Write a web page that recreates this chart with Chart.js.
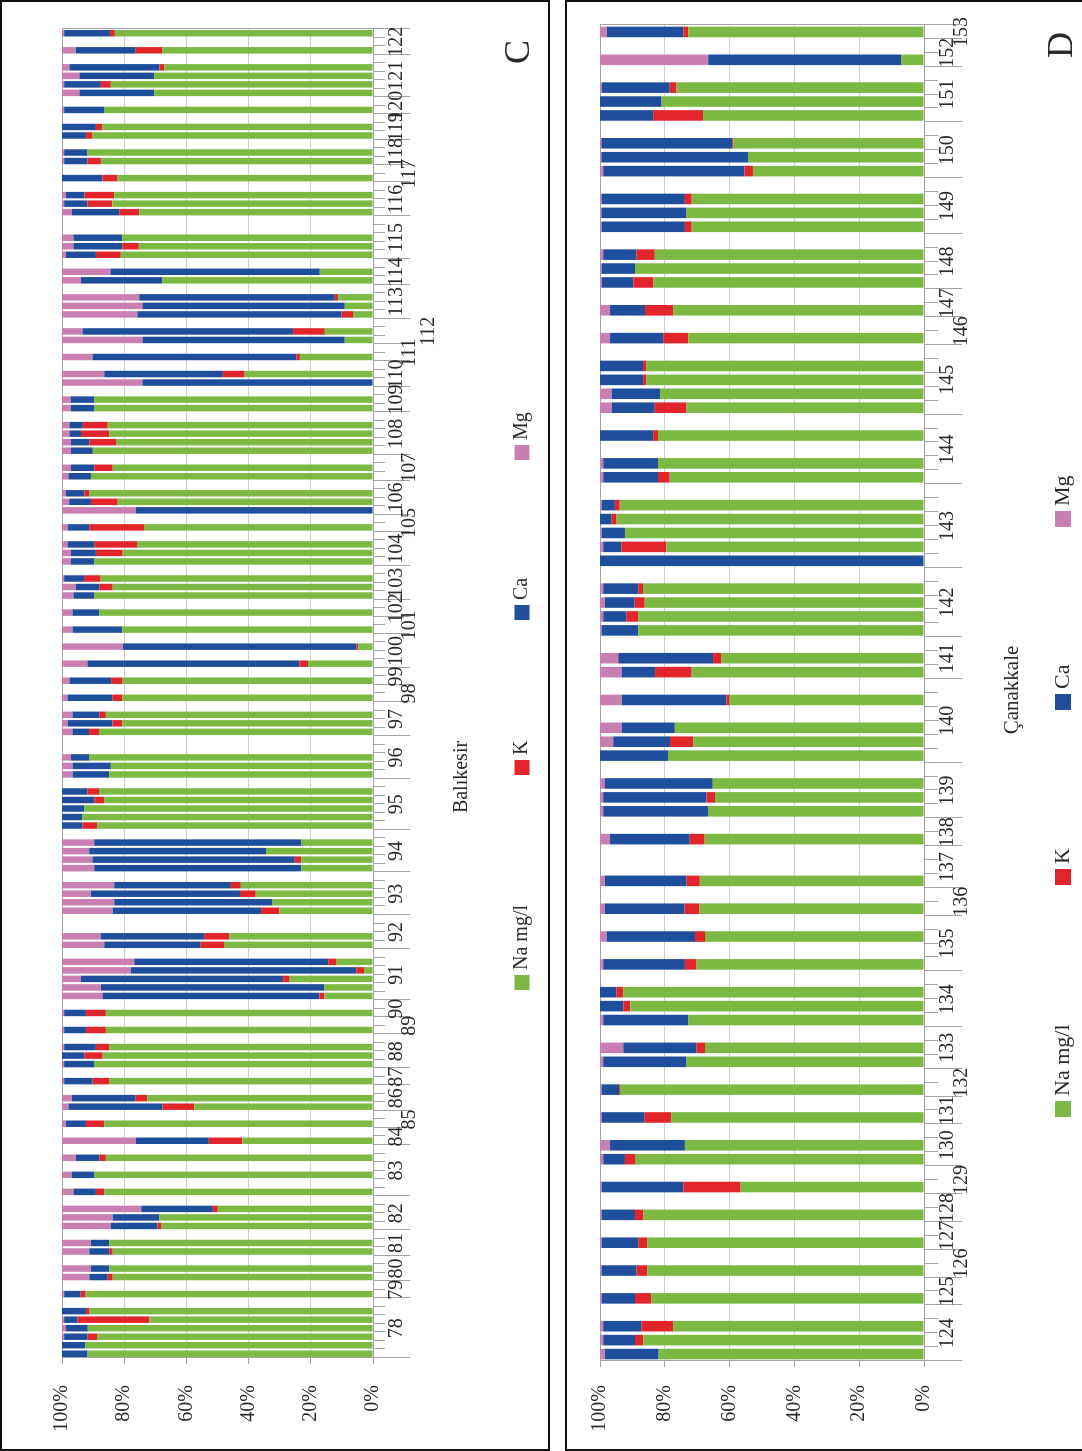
<!DOCTYPE html>
<html>
<head>
<meta charset="utf-8">
<title>Na, K, Ca, Mg – Balıkesir / Çanakkale</title>
<script src="https://cdn.jsdelivr.net/npm/chart.js@4.4.1/dist/chart.umd.min.js"></script>
<style>
  html, body { margin: 0; padding: 0; background: #fff; overflow: hidden; }
  body { width: 1082px; height: 1451px; position: relative; }
  /* each chart is laid out as a normal column chart and turned a quarter to the left */
  .turn { position: absolute; top: 0; transform-origin: 0 0; transform: translate(0, 1451px) rotate(-90deg); }
  .turn canvas { display: block; }
  .box { position: absolute; top: 0; height: 1451px; box-sizing: border-box; border: 2px solid #111; pointer-events: none; }
</style>
</head>
<body>
<div class="turn" style="left:0;width:1451px;height:549px"><canvas id="chartC" width="1451" height="549"></canvas></div>
<div class="turn" style="left:565px;width:1451px;height:517px"><canvas id="chartD" width="1451" height="517"></canvas></div>
<div class="box" style="left:0;width:550px"></div>
<div class="box" style="left:565px;width:530px"></div>

<script>
// ---------- series ----------
const SERIES = ['Na mg/l', 'K', 'Ca', 'Mg'];
const COLORS = ['#7db843', '#e2242b', '#1f4e9c', '#c97fb2'];

// ---------- Balıkesir: sites and number of slots each site occupies ----------
const cSites = ['78','79','80','81','82','83','84','85','86','87','88','89','90','91','92','93','94','95','96','97',
                '98','99','100','101','102','103','104','105','106','107','108','109','110','111','112','113','114',
                '115','116','117','118','119','120','121','122'];
const cSlots = [7,2,3,3,4,6,2,2,3,2, 4,2,2,6,4,5,5,6,5,4, 2,2,4,2,2,4,4,2,4,3, 5,3,3,2,3,4,3,5,4,2, 3,3,2,5,3];

// percentage of each ion per sample (null = empty slot)
const cNa = [
  91.8, 92.5, 88.6, 91.7, 71.9, 91.2, null,   // 78
  92.4, null,                                 // 79
  83.7, 84.8, null,                           // 80
  83.7, 84.8, null,                           // 81
  68.0, 68.7, 49.9, null,                     // 82
  86.4, null, 89.6, null, 85.9, null,         // 83
  42.0, null,                                 // 84
  86.4, null,                                 // 85
  57.5, 72.6, null,                           // 86
  84.9, null,                                 // 87
  89.7, 86.9, 84.8, null,                     // 88
  85.9, null,                                 // 89
  85.9, null,                                 // 90
  15.6, 15.7, 26.8, 2.9, 11.7, null,          // 91
  47.9, 46.2, null, null,                     // 92
  30.1, 32.3, 37.7, 42.5, null,               // 93
  23.0, 23.1, 34.4, 23.0, null,               // 94
  88.6, 93.4, 92.8, 86.4, 88.1, null,         // 95
  84.8, 84.3, 91.2, null, null,               // 96
  88.1, 80.6, 85.9, null,                     // 97
  80.6, null,                                 // 98
  80.5, null,                                 // 99
  20.9, null, 4.8, null,                      // 100
  80.6, null,                                 // 101
  88.0, null,                                 // 102
  89.7, 83.7, 87.6, null,                     // 103
  89.6, 80.5, 75.7, null,                     // 104
  73.6, null,                                 // 105
  0, 82.1, 91.2, null,                        // 106
  90.7, 83.7, null,                           // 107
  90.1, 82.6, 84.8, 85.3, null,               // 108
  89.6, 89.6, null,                           // 109
  0, 41.3, null,                              // 110
  23.5, null,                                 // 111
  9.1, 15.5, null,                            // 112
  6.4, 9.1, 11.2, null,                       // 113
  67.7, 17.1, null,                           // 114
  81.1, 75.3, 80.6, null, null,               // 115
  75.2, 83.8, 83.2, null,                     // 116
  82.2, null,                                 // 117
  87.5, 91.8, null,                           // 118
  90.2, 87.0, null,                           // 119
  86.5, null,                                 // 120
  70.3, 84.3, 70.3, 67.1, null,               // 121
  67.7, null, 83.0                            // 122
];
const cK = [
  0, 0, 3.2, 0, 23.1, 1.1, null,
  1.6, null,
  1.6, 0, null,
  1.1, 0, null,
  1.3, 0, 1.6, null,
  2.7, null, 0, null, 2.1, null,
  10.8, null,
  5.9, null,
  10.2, 3.7, null,
  5.3, null,
  0, 5.9, 4.3, null,
  6.4, null,
  6.4, null,
  1.6, 0, 2.1, 2.5, 2.7, null,
  7.5, 8.1, null, null,
  5.9, 0, 5.1, 3.2, null,
  0, 2.1, 0, 0, null,
  4.8, 0, 0, 3.2, 3.7, null,
  0, 0, 0, null, null,
  3.2, 3.2, 2.1, null,
  3.2, null,
  3.7, null,
  2.7, null, 0.5, null,
  0, null,
  0, null,
  0, 4.3, 5.3, null,
  0, 8.6, 13.9, null,
  17.6, null,
  0, 8.6, 1.6, null,
  0, 5.9, null,
  0, 8.6, 9.1, 8.0, null,
  0, 0, null,
  0, 7.0, null,
  1.1, null,
  0, 10.2, null,
  3.7, 0, 1.1, null,
  0, 0, null,
  8.0, 5.3, 0, null, null,
  6.4, 8.0, 9.6, null,
  4.8, null,
  4.3, 0, null,
  2.1, 2.1, null,
  0, null,
  0, 3.2, 0, 1.6, null,
  8.6, null, 1.6
];
const cCa = [
  8.2, 7.5, 7.5, 7.0, 4.3, 7.7, null,
  5.3, null,
  5.9, 5.9, null,
  6.4, 5.9, null,
  15.0, 15.0, 23.0, null,
  7.2, null, 7.2, null, 7.5, null,
  23.5, null,
  6.4, null,
  30.2, 20.5, null,
  9.1, null,
  9.6, 7.2, 10.2, null,
  7.0, null,
  7.0, null,
  69.8, 71.8, 65.0, 72.5, 62.4, null,
  31.0, 33.2, null, null,
  47.7, 50.9, 47.9, 37.5, null,
  66.6, 65.0, 56.8, 66.6, null,
  6.6, 6.6, 7.2, 10.4, 8.2, null,
  11.8, 12.3, 5.9, null, null,
  5.3, 14.4, 8.6, null,
  14.4, null,
  13.4, null,
  68.2, null, 75.2, null,
  16.0, null,
  8.6, null,
  6.6, 7.5, 6.4, null,
  7.5, 8.0, 8.6, null,
  7.0, null,
  76.3, 7.0, 5.9, null,
  7.2, 7.5, null,
  7.0, 5.9, 3.7, 4.3, null,
  7.5, 7.5, null,
  74.1, 38.1, null,
  65.6, null,
  65.0, 67.7, null,
  65.6, 65.0, 62.9, null,
  26.2, 67.2, null,
  9.6, 15.7, 15.7, null, null,
  15.2, 7.5, 5.9, null,
  13.0, null,
  7.5, 7.5, null,
  7.7, 10.9, null,
  12.8, null,
  24.1, 11.8, 24.1, 28.9, null,
  19.3, null, 14.7
];
const cMg = [
  0, 0, 0.7, 1.3, 0.7, 0, null,
  0.7, null,
  8.8, 9.3, null,
  8.8, 9.3, null,
  15.7, 16.3, 25.5, null,
  3.7, null, 3.2, null, 4.5, null,
  23.7, null,
  1.3, null,
  2.1, 3.2, null,
  0.7, null,
  0.7, 0, 0.7, null,
  0.7, null,
  0.7, null,
  13.0, 12.5, 6.1, 22.1, 23.2, null,
  13.6, 12.5, null, null,
  16.3, 16.8, 9.3, 16.8, null,
  10.4, 9.8, 8.8, 10.4, null,
  0, 0, 0, 0, 0, null,
  3.4, 3.4, 2.9, null, null,
  3.4, 1.8, 3.4, null,
  1.8, null,
  2.4, null,
  8.2, null, 19.5, null,
  3.4, null,
  3.4, null,
  3.7, 4.5, 0.7, null,
  2.9, 2.9, 1.8, null,
  1.8, null,
  23.7, 2.3, 1.3, null,
  2.1, 2.9, null,
  2.9, 2.9, 2.4, 2.4, null,
  2.9, 2.9, null,
  25.9, 13.6, null,
  9.8, null,
  25.9, 6.6, null,
  24.3, 25.9, 24.8, null,
  6.1, 15.7, null,
  1.3, 3.7, 3.7, null, null,
  3.2, 0.7, 1.3, null,
  0, null,
  0.7, 0.7, null,
  0, 0, null,
  0.7, null,
  5.6, 0.7, 5.6, 2.4, null,
  4.4, null, 0.7
];

// ---------- Çanakkale ----------
const dSites = ['124','125','126','127','128','129','130','131','132','133','134','135','136','137','138',
                '139','140','141','142','143','144','145','146','147','148','149','150','151','152','153'];
const dSlots = [4,2,2,2,2,2,3,2,2,3, 4,4,2,3,2,4,6,3,5,6, 5,5,2,2,4,4,4,4,2,1];

const dNa = [
  81.9, 86.6, 77.4, null,                     // 124
  84.1, null,                                 // 125
  85.4, null,                                 // 126
  85.4, null,                                 // 127
  86.6, null,                                 // 128
  56.6, null,                                 // 129
  89.2, 73.8, null,                           // 130
  78.0, null,                                 // 131
  93.8, null,                                 // 132
  73.3, 67.6, null,                           // 133
  72.8, 90.7, 92.8, null,                     // 134
  70.2, null, 67.6, null,                     // 135
  69.3, null,                                 // 136
  69.2, null, null,                           // 137
  67.7, null,                                 // 138
  66.7, 64.5, 65.2, null,                     // 139
  79.0, 71.2, 76.9, null, 60.0, null,         // 140
  71.7, 62.5, null,                           // 141
  88.2, 88.2, 86.2, 86.7, null,               // 142
  0, 79.5, 92.3, 94.9, 93.9, null,            // 143
  78.5, 82.1, null, 82.1, null,               // 144
  73.3, 81.5, 85.7, 85.7, null,               // 145
  72.8, null,                                 // 146
  77.4, null,                                 // 147
  83.5, 89.2, 83.1, null,                     // 148
  71.7, 73.3, 71.7, null,                     // 149
  52.8, 54.3, 58.8, null,                     // 150
  68.2, 81.0, 76.4, null,                     // 151
  7.1, null,                                  // 152
  72.8                                        // 153
];
const dK = [
  0, 2.6, 9.8, null,
  5.1, null,
  3.3, null,
  2.8, null,
  2.6, null,
  17.7, null,
  3.1, 0, null,
  8.2, null,
  0.3, null,
  0, 2.6, null,
  0, 2.1, 2.1, null,
  3.6, null, 3.1, null,
  4.6, null,
  4.1, null, null,
  4.6, null,
  0, 2.6, 0, null,
  0, 7.2, 0, null, 1.0, null,
  11.3, 2.6, null,
  0, 3.6, 3.1, 1.5, null,
  0, 13.9, 0, 1.5, 1.5, null,
  3.6, 0, null, 1.5, null,
  9.8, 0, 1.0, 1.0, null,
  7.7, null,
  8.7, null,
  6.2, 0, 5.6, null,
  2.1, 0, 2.1, null,
  2.6, 0, 0.4, null,
  15.4, 0, 2.1, null,
  0, null,
  1.5
];
const dCa = [
  16.6, 9.8, 11.8, null,
  10.3, null,
  10.8, null,
  11.3, null,
  10.3, null,
  25.2, null,
  6.7, 23.1, null,
  13.3, null,
  5.4, null,
  25.7, 22.6, null,
  26.2, 7.2, 5.1, null,
  25.2, null, 27.2, null,
  24.6, null,
  25.2, null, null,
  24.6, null,
  32.3, 31.9, 33.3, null,
  21.0, 17.5, 16.4, null, 32.3, null,
  10.3, 29.3, null,
  11.3, 7.2, 9.2, 10.8, null,
  100, 5.6, 7.2, 3.6, 4.1, null,
  16.9, 16.9, null, 16.4, null,
  13.3, 14.9, 13.3, 13.3, null,
  16.4, null,
  10.8, null,
  9.8, 10.3, 10.3, null,
  25.7, 26.2, 25.7, null,
  43.6, 45.2, 40.3, null,
  16.4, 19.0, 21.0, null,
  59.5, null,
  23.6
];
const dMg = [
  1.5, 1.0, 1.0, null,
  0.5, null,
  0.5, null,
  0.5, null,
  0.5, null,
  0.5, null,
  1.0, 3.1, null,
  0.5, null,
  0.5, null,
  1.0, 7.2, null,
  1.0, 0, 0, null,
  1.0, null, 2.1, null,
  1.5, null,
  1.5, null, null,
  3.1, null,
  1.0, 1.0, 1.5, null,
  0, 4.1, 6.7, null, 6.7, null,
  6.7, 5.6, null,
  0.5, 1.0, 1.5, 1.0, null,
  0, 1.0, 0.5, 0, 0.5, null,
  1.0, 1.0, null, 0, null,
  3.6, 3.6, 0, 0, null,
  3.1, null,
  3.1, null,
  0.5, 0.5, 1.0, null,
  0.5, 0.5, 0.5, null,
  1.0, 0.5, 0.5, null,
  0, 0, 0.5, null,
  33.4, null,
  2.1
];

// ---------- drawing helpers ----------
const SERIF = '"Liberation Serif", "DejaVu Serif", serif';
const AXIS = '#a3a3a3';
const GRID = '#cfcfcf';
const INK = '#2a2a2a';

// grey frame round the plot area
const plotFrame = {
  id: 'plotFrame',
  beforeDatasetsDraw(chart) {
    const { ctx, chartArea: a } = chart;
    ctx.save();
    ctx.strokeStyle = AXIS;
    ctx.lineWidth = 1;
    ctx.strokeRect(Math.round(a.left) + 0.5, Math.round(a.top) + 0.5, Math.round(a.width), Math.round(a.height));
    ctx.restore();
  }
};

// two-level category axis: a tick per sample slot, a long tick between sites, site name centred on its slots
const siteAxis = {
  id: 'siteAxis',
  afterDraw(chart, _args, o) {
    const { ctx, chartArea: a, scales: { x } } = chart;
    const labels = chart.data.labels;
    const n = labels.length;
    const step = x.getPixelForValue(1) - x.getPixelForValue(0);
    const edge = i => x.getPixelForValue(i) - step / 2;
    ctx.save();
    ctx.strokeStyle = AXIS;
    ctx.lineWidth = 1;
    ctx.beginPath();
    for (let i = 0; i <= n; i++) {
      const px = Math.round(edge(i)) + 0.5;
      const major = i === 0 || i === n || labels[i] !== labels[i - 1];
      ctx.moveTo(px, a.bottom);
      ctx.lineTo(px, a.bottom + (major ? o.major : o.minor));
    }
    ctx.stroke();
    ctx.fillStyle = INK;
    ctx.font = `${o.size}px ${SERIF}`;
    ctx.textAlign = 'center';
    ctx.textBaseline = 'middle';
    let start = 0;
    for (let i = 1; i <= n; i++) {
      if (i === n || labels[i] !== labels[i - 1]) {
        const name = labels[start];
        const mid = (edge(start) + edge(i)) / 2;
        const row = o.raised[name] || 0;
        ctx.fillText(name, mid, a.bottom + o.rows[row]);
        start = i;
      }
    }
    ctx.restore();
  }
};

// axis title, panel letter and legend
const captions = {
  id: 'captions',
  afterDraw(chart, _args, o) {
    const ctx = chart.ctx;
    ctx.save();
    ctx.fillStyle = INK;
    ctx.textBaseline = 'middle';
    ctx.textAlign = 'center';
    ctx.font = `${o.titleSize}px ${SERIF}`;
    ctx.fillText(o.title, o.titleX, o.titleY);
    ctx.font = `${o.letterSize}px ${SERIF}`;
    ctx.fillText(o.letter, o.letterX, o.letterY);
    ctx.textAlign = 'left';
    ctx.font = `${o.legendSize}px ${SERIF}`;
    chart.data.datasets.forEach((ds, i) => {
      const bx = o.legendX[i];
      ctx.fillStyle = ds.backgroundColor;
      ctx.fillRect(bx, o.legendY - o.box / 2, o.box, o.box);
      ctx.fillStyle = INK;
      ctx.fillText(ds.label, bx + o.box + o.gap, o.legendY);
    });
    ctx.restore();
  }
};

function stackedPanel(canvasId, sites, slots, series, layout) {
  const labels = sites.flatMap((s, i) => Array(slots[i]).fill(s));
  return new Chart(document.getElementById(canvasId), {
    type: 'bar',
    data: {
      labels,
      datasets: series.map((values, i) => ({
        label: SERIES[i],
        data: values,
        backgroundColor: COLORS[i],
        borderWidth: 0,
        barPercentage: 1,
        categoryPercentage: 0.76
      }))
    },
    options: {
      responsive: false,
      animation: false,
      devicePixelRatio: 1,
      events: [],
      layout: { padding: { top: layout.top, right: layout.right, left: 0, bottom: 0 } },
      scales: {
        x: {
          stacked: true,
          ticks: { display: false },
          grid: { display: false },
          border: { display: true, color: AXIS },
          afterFit: s => { s.height = layout.below; }
        },
        y: {
          stacked: true,
          min: 0,
          max: 100,
          ticks: {
            stepSize: 20,
            callback: v => v + '%',
            padding: layout.tickPad,
            color: INK,
            font: { family: SERIF, size: 20 }
          },
          grid: { color: GRID, tickColor: AXIS, tickLength: 6 },
          border: { color: AXIS },
          afterFit: s => { s.width = layout.left; }
        }
      },
      plugins: {
        legend: { display: false },
        tooltip: { enabled: false },
        siteAxis: layout.axis,
        captions: layout.captions
      }
    },
    plugins: [plotFrame, siteAxis, captions]
  });
}

stackedPanel('chartC', cSites, cSlots, [cNa, cK, cCa, cMg], {
  top: 62, right: 29, left: 93, below: 176, tickPad: 21,
  axis: {
    minor: 12, major: 37, size: 20, rows: [24, 37, 56],
    raised: { '85': 1, '89': 1, '98': 1, '101': 1, '105': 1, '107': 1, '111': 1, '112': 2, '117': 1 }
  },
  captions: {
    title: 'Balıkesir', titleX: 674, titleY: 462, titleSize: 20,
    letter: 'C', letterX: 1399, letterY: 520, letterSize: 36,
    legendX: [461, 676, 831, 991], legendY: 522, box: 15, gap: 5, legendSize: 20
  }
});

stackedPanel('chartD', dSites, dSlots, [dNa, dK, dCa, dMg], {
  top: 35, right: 25, left: 90, below: 158, tickPad: 18,
  axis: {
    minor: 14, major: 38, size: 20, rows: [24, 38],
    raised: { '126': 1, '129': 1, '132': 1, '136': 1, '146': 1, '153': 1 }
  },
  captions: {
    title: 'Çanakkale', titleX: 761, titleY: 447, titleSize: 21,
    letter: 'D', letterX: 1406, letterY: 498, letterSize: 36,
    legendX: [334, 566, 741, 924], legendY: 498, box: 16, gap: 5, legendSize: 22
  }
});
</script>
</body>
</html>
